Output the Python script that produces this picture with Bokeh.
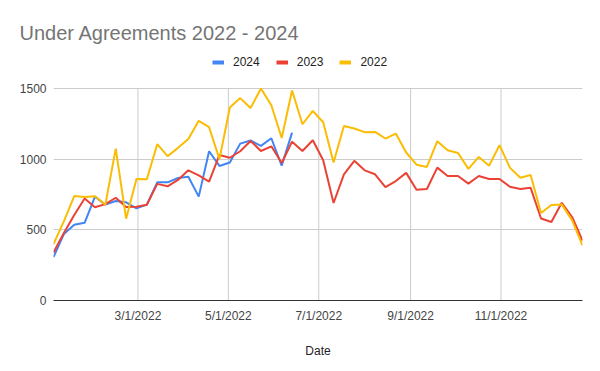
import pandas as pd
from bokeh.plotting import figure
from bokeh.models import (Range1d, FixedTicker, Legend, LegendItem,
                          ColumnDataSource)
from bokeh.embed import file_html
from bokeh.resources import INLINE

# ---- data ----
dates = pd.date_range("2022-01-03", periods=52, freq="7D")

sales_2024 = [307, 470, 536, 550, 735, 678, 704, 695, 652, 678, 836, 836,
              867, 876, 735, 1056, 952, 976, 1110, 1132, 1094, 1148, 954, 1188]

sales_2023 = [340, 478, 605, 722, 660, 682, 727, 661, 664, 677, 825, 808,
              853, 921, 886, 841, 1030, 1010, 1056, 1129, 1058, 1091, 973, 1124,
              1058, 1134, 992, 690, 893, 988, 921, 893, 803, 845, 903, 784,
              789, 940, 881, 881, 827, 881, 860, 860, 805, 789, 797, 580,
              555, 691, 591, 423]

sales_2022 = [400, 560, 739, 732, 737, 678, 1075, 579, 860, 858, 1106, 1021,
              1080, 1143, 1271, 1226, 1000, 1366, 1432, 1362, 1500, 1382, 1150, 1486,
              1247, 1341, 1261, 976, 1234, 1217, 1191, 1193, 1146, 1181, 1047, 961,
              945, 1127, 1063, 1044, 931, 1016, 954, 1099, 940, 869, 888, 619,
              676, 680, 567, 390]

series_names = ["2024", "2023", "2022"]
series_colors = ["#4285F4", "#EA4335", "#FBBC04"]

tick_dates = ["2022-03-01", "2022-05-01", "2022-07-01", "2022-09-01", "2022-11-01"]
tick_labels = ["3/1/2022", "5/1/2022", "7/1/2022", "9/1/2022", "11/1/2022"]
y_ticks = [0, 500, 1000, 1500]

title_text = "Under Agreements 2022 - 2024"
x_label = "Date"

# ---- figure ----
FONT = "Liberation Sans"
y_max = max(y_ticks)
# frame extends above the top gridline so the legend can sit inside it
y_top = y_max * 250 / 212
p = figure(width=600, height=371, x_axis_type="datetime",
           output_backend="svg", toolbar_location=None,
           title=title_text,
           x_range=Range1d(dates[0], dates[-1]), y_range=Range1d(0, y_top),
           min_border_left=53, min_border_right=18,
           min_border_top=50, min_border_bottom=71)
p.outline_line_color = None
p.background_fill_color = "white"
p.border_fill_color = "white"

p.title.text_font = FONT
p.title.text_font_size = "20px"
p.title.text_font_style = "normal"
p.title.text_color = "#757575"
p.title.align = "left"
p.title.offset = -34
p.title.standoff = 14

tick_ts = [pd.Timestamp(d) for d in tick_dates]
# vertical grid lines limited to the value range
p.segment(x0=tick_ts, y0=[0] * len(tick_ts), x1=tick_ts, y1=[y_max] * len(tick_ts),
          line_color="#cccccc", line_width=1)
p.xgrid.grid_line_color = None
p.ygrid.grid_line_color = "#cccccc"

series = [sales_2024, sales_2023, sales_2022]
legend_items = []
for name, color, vals in zip(series_names, series_colors, series):
    src = ColumnDataSource(dict(x=dates[:len(vals)], y=vals))
    p.line("x", "y", source=src, line_color=color, line_width=2)
    # single-point line: draws nothing on the plot, gives a thick legend swatch
    swatch = p.line(x=dates[:1], y=vals[:1], line_color=color, line_width=4)
    legend_items.append(LegendItem(label=name, renderers=[swatch]))

# axes
tick_ms = [t.value / 1e6 for t in tick_ts]
p.xaxis.ticker = FixedTicker(ticks=tick_ms)
p.xaxis.major_label_overrides = {t: l for t, l in zip(tick_ms, tick_labels)}
p.yaxis.ticker = FixedTicker(ticks=y_ticks)

for ax in (p.xaxis, p.yaxis):
    ax.major_tick_line_color = None
    ax.minor_tick_line_color = None
    ax.major_tick_in = 0
    ax.major_tick_out = 0
    ax.major_label_text_font = FONT
    ax.major_label_text_font_size = "12px"
    ax.major_label_text_color = "#444444"

p.yaxis.axis_line_color = None
p.yaxis.major_label_standoff = 7
p.xaxis.axis_line_color = "#333333"
p.xaxis.axis_line_width = 1
p.xaxis.major_label_standoff = 8
p.xaxis.axis_label = x_label
p.xaxis.axis_label_text_font = FONT
p.xaxis.axis_label_text_font_size = "12px"
p.xaxis.axis_label_text_font_style = "normal"
p.xaxis.axis_label_text_color = "#222222"
p.xaxis.axis_label_standoff = 18

legend = Legend(items=legend_items, orientation="horizontal",
                location=(159, 231), padding=0, margin=0, spacing=16,
                label_standoff=9, glyph_width=12, glyph_height=12,
                label_height=12, label_width=10,
                label_text_font=FONT, label_text_font_size="12px",
                label_text_color="#222222", border_line_color=None,
                background_fill_alpha=0, inactive_fill_alpha=0)
p.add_layout(legend)

open("out.html", "w").write(file_html(p, INLINE))
